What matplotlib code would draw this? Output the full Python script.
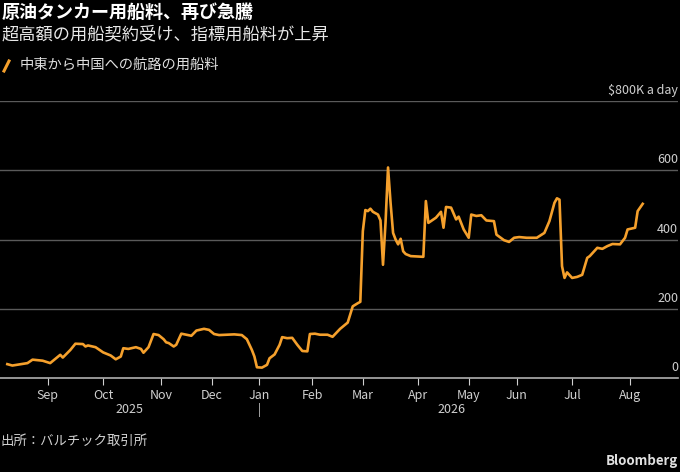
import numpy as np
import pandas as pd
import matplotlib.pyplot as plt

plt.rcParams['font.family'] = ['Noto Sans CJK JP', 'DejaVu Sans']

# Middle East to China tanker rate, thousand dollars a day (trading days)
dates = [
    '2025-08-07', '2025-08-11', '2025-08-19', '2025-08-21', '2025-08-28',
    '2025-09-02', '2025-09-08', '2025-09-09', '2025-09-12', '2025-09-16',
    '2025-09-19', '2025-09-22', '2025-09-23', '2025-09-26', '2025-10-01',
    '2025-10-06', '2025-10-08', '2025-10-10', '2025-10-13', '2025-10-15',
    '2025-10-20', '2025-10-22', '2025-10-23', '2025-10-24', '2025-10-27',
    '2025-10-29', '2025-10-31', '2025-11-04', '2025-11-05', '2025-11-06',
    '2025-11-10', '2025-11-11', '2025-11-13', '2025-11-19', '2025-11-21',
    '2025-11-26', '2025-11-28', '2025-12-02', '2025-12-04', '2025-12-12',
    '2025-12-17', '2025-12-19', '2025-12-23', '2025-12-29', '2025-12-30',
    '2026-01-05', '2026-01-07', '2026-01-08', '2026-01-12', '2026-01-14',
    '2026-01-15', '2026-01-19', '2026-01-21', '2026-01-23', '2026-01-27',
    '2026-01-29', '2026-01-30', '2026-02-03', '2026-02-05', '2026-02-10',
    '2026-02-12', '2026-02-17', '2026-02-20', '2026-02-24', '2026-02-26',
    '2026-02-27', '2026-03-02', '2026-03-03', '2026-03-04', '2026-03-05',
    '2026-03-06', '2026-03-10', '2026-03-11', '2026-03-12', '2026-03-13',
    '2026-03-16', '2026-03-17', '2026-03-18', '2026-03-19', '2026-03-20',
    '2026-03-23', '2026-03-24', '2026-03-25', '2026-03-27', '2026-04-07',
    '2026-04-08', '2026-04-09', '2026-04-13', '2026-04-14', '2026-04-16',
    '2026-04-17', '2026-04-20', '2026-04-22', '2026-04-24', '2026-04-27',
    '2026-04-29', '2026-05-01', '2026-05-05', '2026-05-07', '2026-05-11',
    '2026-05-13', '2026-05-18', '2026-05-19', '2026-05-22', '2026-05-27',
    '2026-05-29', '2026-06-02', '2026-06-05', '2026-06-11', '2026-06-16',
    '2026-06-18', '2026-06-22', '2026-06-23', '2026-06-24', '2026-06-25',
    '2026-06-26', '2026-06-29', '2026-07-01', '2026-07-03', '2026-07-07',
    '2026-07-09', '2026-07-10', '2026-07-15', '2026-07-17', '2026-07-21',
    '2026-07-23', '2026-07-28', '2026-07-30', '2026-07-31', '2026-08-05',
    '2026-08-06', '2026-08-10',
]
rates = [
    40, 36, 43, 53, 50,
    43, 67, 59, 81, 99,
    98, 91, 94, 89, 74,
    65, 54, 62, 86, 84,
    89, 84, 73, 81, 89,
    127, 124, 112, 103, 101,
    91, 96, 128, 122, 137,
    142, 139, 127, 124, 126,
    124, 112, 81, 62, 31,
    30, 38, 57, 68, 96,
    118, 115, 116, 96, 78,
    77, 127, 128, 125, 125,
    119, 142, 160, 207, 216,
    220, 424, 485, 482, 489,
    480, 472, 455, 327, 448,
    608, 506, 419, 400, 386,
    402, 366, 358, 352, 350,
    511, 448, 458, 463, 480,
    434, 494, 492, 458, 466,
    429, 405, 472, 468, 470,
    455, 453, 414, 398, 393,
    405, 407, 405, 405, 419,
    453, 506, 519, 515, 323,
    289, 305, 289, 292, 298,
    347, 352, 376, 373, 381,
    387, 386, 405, 429, 434,
    482, 503,
]
# days with no fixing (the chart runs on trading days only)
holidays = ['2025-08-25', '2025-12-24', '2025-12-25', '2025-12-26',
            '2025-12-31', '2026-01-01', '2026-04-03', '2026-04-06',
            '2026-05-04', '2026-05-25']
y_ticks = [0, 200, 400, 600]
month_labels = ['Sep', 'Oct', 'Nov', 'Dec', 'Jan', 'Feb', 'Mar', 'Apr',
                'May', 'Jun', 'Jul', 'Aug']
month_starts = pd.date_range('2025-09-01', '2026-08-01', freq='MS')

origin = np.datetime64('2025-09-01')
hol = np.array(holidays, dtype='datetime64[D]')


def tday(d):
    return np.busday_count(origin, np.array(d, dtype='datetime64[D]'), holidays=hol)


x = tday(dates)
tick_x = tday(month_starts.strftime('%Y-%m-%d').tolist())

bg = 'black'
txt = '#d0d0d0'
fig = plt.figure(figsize=(6.8, 4.72), dpi=100, facecolor=bg)
ax = fig.add_axes([0, 94 / 472, 678 / 680, 277 / 472])
ax.set_facecolor(bg)

ax.plot(x, rates, color='#f5a02c', lw=1.9, zorder=3, solid_joinstyle='round')

ax.set_xlim(-18.9, 250.0)
ax.set_ylim(0, 800)

# gridlines
for v in y_ticks[1:] + [800]:
    ax.axhline(v, color='#5a5a5a', lw=1, zorder=1)
ax.axhline(0, color='#b0b0b0', lw=1.2, zorder=2, clip_on=False)

for s in ax.spines.values():
    s.set_visible(False)
ax.set_yticks([])

# y labels sitting above the gridlines on the right
for v in y_ticks:
    ax.text(1.0, v + 20, str(v), transform=ax.get_yaxis_transform(),
            ha='right', va='baseline', color=txt, fontsize=9)
ax.text(1.0, 820, '$800K a day', transform=ax.get_yaxis_transform(),
        ha='right', va='baseline', color=txt, fontsize=9, clip_on=False)

ax.set_xticks(tick_x)
ax.set_xticklabels(month_labels)
ax.tick_params(axis='x', colors=txt, labelcolor=txt, length=5,
               width=0.8, pad=3, labelsize=9)

# year labels
jan = tday('2026-01-01')
ax.text((ax.get_xlim()[0] + jan) / 2, -0.115, '2025', transform=ax.get_xaxis_transform(),
        ha='center', va='center', color=txt, fontsize=9)
ax.text((jan + x[-1]) / 2, -0.115, '2026', transform=ax.get_xaxis_transform(),
        ha='center', va='center', color=txt, fontsize=9)
ax.text(jan, -0.115, '|', transform=ax.get_xaxis_transform(),
        ha='center', va='center', color=txt, fontsize=9)

# titles and legend
fig.text(2 / 680, 1 - 12 / 472, '原油タンカー用船料、再び急騰', color='white',
         fontsize=13, fontweight='bold', ha='left', va='center')
fig.text(2 / 680, 1 - 34 / 472, '超高額の用船契約受け、指標用船料が上昇', color='#e8e8e8',
         fontsize=12.4, ha='left', va='center')
fig.add_artist(plt.Line2D([4 / 680, 9 / 680], [1 - 71 / 472, 1 - 61 / 472],
                          color='#f5a02c', lw=2.2, transform=fig.transFigure))
fig.text(20 / 680, 1 - 65 / 472, '中東から中国への航路の用船料', color='#e0e0e0',
         fontsize=10.3, ha='left', va='center')

fig.text(0, 1 - 441 / 472, '出所：バルチック取引所', color=txt,
         fontsize=9.6, ha='left', va='center')
fig.text(678 / 680, 1 - 461 / 472, 'Bloomberg', color='#e0e0e0',
         fontsize=9.5, fontweight='bold', ha='right', va='center')

fig.savefig('out.png', dpi=100, facecolor=bg)
